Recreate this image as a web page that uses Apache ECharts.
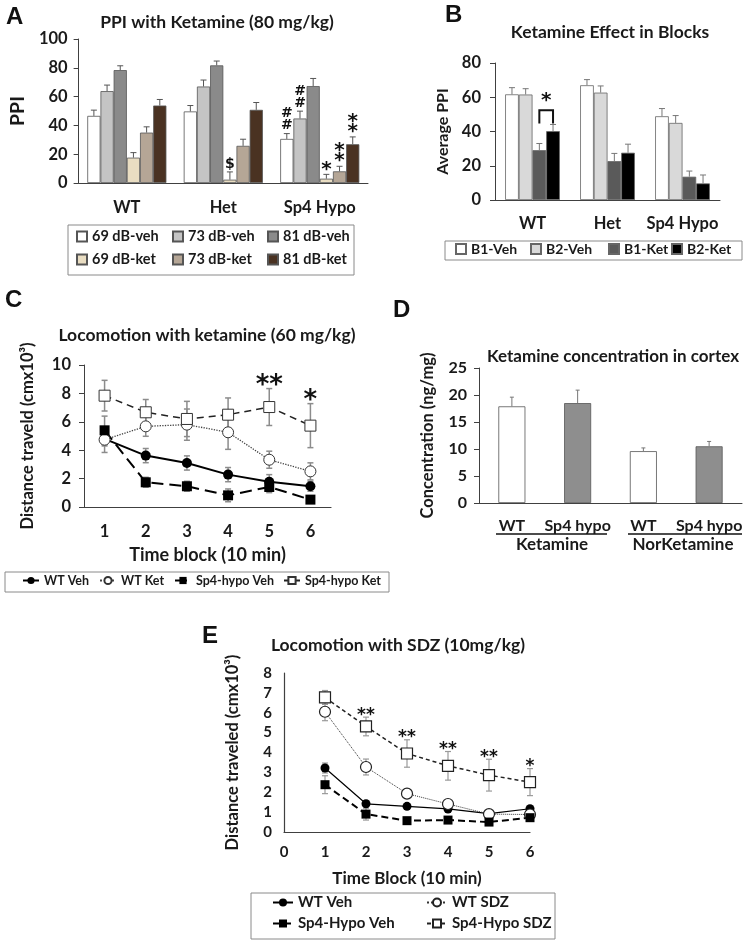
<!DOCTYPE html>
<html>
<head>
<meta charset="utf-8">
<script src="https://cdn.jsdelivr.net/npm/echarts@6/dist/echarts.min.js"></script>
<style>
  body { margin: 0; background: #fff; }
  #page { position: relative; width: 747px; height: 945px; }
  .panel { position: absolute; }
</style>
</head>
<body>
<div id="page">
  <div id="panelA" class="panel" style="left:0;top:0;width:380px;height:290px"></div>
  <div id="panelB" class="panel" style="left:380px;top:0;width:367px;height:290px"></div>
  <div id="panelC" class="panel" style="left:0;top:285px;width:400px;height:315px"></div>
  <div id="panelD" class="panel" style="left:390px;top:290px;width:357px;height:300px"></div>
  <div id="panelE" class="panel" style="left:190px;top:590px;width:380px;height:355px"></div>
</div>
<script>
// ---------- data ----------
// A: PPI with ketamine
const groupsA = ['WT', 'Het', 'Sp4 Hypo']
const namesA = ['69 dB-veh', '73 dB-veh', '81 dB-veh', '69 dB-ket', '73 dB-ket', '81 dB-ket']
const ppi69Veh = [46.6, 49.7, 30.6]
const ppi73Veh = [63.8, 67, 44.8]
const ppi81Veh = [78.4, 81.7, 67.3]
const ppi69Ket = [17.6, 2.3, 3]
const ppi73Ket = [35, 25.8, 8.1]
const ppi81Ket = [53.8, 50.8, 26.9]
const sem69Veh = [4, 4.1, 3.7]
const sem73Veh = [4.2, 4.5, 5.1]
const sem81Veh = [3, 3, 5.3]
const sem69Ket = [3.5, 5.4, 3]
const sem73Ket = [4, 4.6, 3.5]
const sem81Ket = [4.2, 5.1, 5.1]
const notes69Veh = ['', '', '#\n#']
const notes73Veh = ['', '', '#\n#']
const notes69Ket = ['', '$', '*']
const notes73Ket = ['', '', '*\n*']
const notes81Ket = ['', '', '*\n*']

// B: ketamine effect in blocks
const groupsB = ['WT', 'Het', 'Sp4 Hypo']
const namesB = ['B1-Veh', 'B2-Veh', 'B1-Ket', 'B2-Ket']
const b1Veh = [61.7, 67, 48.9]
const b2Veh = [61.6, 62.7, 45]
const b1Ket = [29.1, 22.7, 13.6]
const b2Ket = [40.2, 27.6, 9.7]
const b1VehErr = [3.9, 3.3, 4.5]
const b2VehErr = [3.4, 3.9, 4.3]
const b1KetErr = [3.9, 4.5, 3.3]
const b2KetErr = [3.9, 5, 4.9]

// C: locomotion with ketamine
const blocksC = ['1', '2', '3', '4', '5', '6']
const namesC = ['WT Veh', 'WT Ket', 'Sp4-hypo Veh', 'Sp4-hypo Ket']
const wtVehC = [4.8, 3.62, 3.1, 2.28, 1.78, 1.46]
const wtKetC = [4.74, 5.68, 5.8, 5.26, 3.33, 2.51]
const sp4VehC = [5.4, 1.74, 1.46, 0.82, 1.41, 0.52]
const sp4KetC = [7.84, 6.67, 6.2, 6.5, 7.04, 5.73]
const wtVehErrC = [0.5, 0.5, 0.5, 0.5, 0.5, 0.35]
const wtKetErrC = [0.9, 0.7, 1.1, 1.2, 0.6, 0.6]
const sp4VehErrC = [1.0, 0.35, 0.35, 0.45, 0.4, 0.2]
const sp4KetErrC = [1.08, 0.9, 1.24, 1.18, 1.3, 1.55]
const notesC = ['', '', '', '', '**', '*']

// D: ketamine concentration in cortex
const compoundsD = ['Ketamine', 'NorKetamine']
const genotypesD = ['WT', 'Sp4 hypo']
const concD = [17.9, 18.5, 9.6, 10.5]
const concErrD = [1.7, 2.4, 0.6, 0.9]

// E: locomotion with SDZ
const blocksE = [1, 2, 3, 4, 5, 6]
const namesE = ['WT Veh', 'WT SDZ', 'Sp4-Hypo Veh', 'Sp4-Hypo SDZ']
const wtVehE = [3.22, 1.42, 1.29, 1.16, 0.92, 1.17]
const wtSdzE = [6.05, 3.27, 1.93, 1.41, 0.9, 0.88]
const sp4VehE = [2.38, 0.9, 0.57, 0.6, 0.5, 0.72]
const sp4SdzE = [6.77, 5.31, 3.95, 3.33, 2.86, 2.51]
const wtVehErrE = [0.25, 0.15, 0.12, 0.12, 0.1, 0.12]
const wtSdzErrE = [0.45, 0.4, 0.2, 0.2, 0.15, 0.1]
const sp4VehErrE = [0.45, 0.3, 0.12, 0.1, 0.12, 0.1]
const sp4SdzErrE = [0.35, 0.47, 0.69, 0.72, 0.8, 0.68]
const notesE = ['', '**', '**', '**', '**', '*']

// ---------- shared styles ----------
const FONT = 'Lato, "Open Sans", sans-serif'
const INK = '#1a1a1a'
const AXIS = '#404040'
const letterStyle = { fontSize: 24, fontWeight: 'bold', fontFamily: '"Liberation Sans", Arial', color: '#111' }
const bold = (size) => ({ fontSize: size, fontWeight: 'bold', color: INK, fontFamily: FONT })

// 误差线（柱状图，只画上半部分）
function barErrorSeries(values, errs, notes, idx, count, gap, opt) {
  opt = opt || {}
  return {
    type: 'custom',
    z: 3,
    silent: true,
    data: values.map((v, j) => [j, v]),
    renderItem: function (params, api) {
      const j = params.dataIndex
      const base = api.coord([j, values[j]])
      const top = api.coord([j, values[j] + errs[j]])
      const band = api.size([1, 0])[0]
      const group = opt.barWidth ? opt.barWidth * count : band * (1 - gap)
      const x = base[0] - group / 2 + group / count * (idx + 0.5)
      const cap = opt.cap || 3
      const stroke = { stroke: opt.color || '#555', lineWidth: 1 }
      const children = [
        { type: 'line', shape: { x1: x, y1: base[1], x2: x, y2: top[1] }, style: stroke },
        { type: 'line', shape: { x1: x - cap, y1: top[1], x2: x + cap, y2: top[1] }, style: stroke }
      ]
      const note = notes && notes[j]
      if (note) {
        const star = note.indexOf('*') >= 0
        children.push({
          type: 'text',
          style: {
            text: note, x: x, y: top[1] - (star ? 0 : 2),
            align: 'center', verticalAlign: 'bottom',
            fontFamily: '"DejaVu Sans"', fontWeight: 'bold',
            fontSize: star ? 20 : 14, lineHeight: star ? 10 : 12, fill: '#111'
          }
        })
      }
      return { type: 'group', children }
    }
  }
}

// 误差线（折线图，上下对称）
function lineErrorSeries(xs, values, errs, notes, opt) {
  return {
    type: 'custom',
    z: 1,
    silent: true,
    data: values.map((v, j) => [xs[j], v]),
    renderItem: function (params, api) {
      const j = params.dataIndex
      const lo = api.coord([xs[j], values[j] - errs[j]])
      const hi = api.coord([xs[j], values[j] + errs[j]])
      const stroke = { stroke: opt.color, lineWidth: opt.width }
      const children = [
        { type: 'line', shape: { x1: lo[0], y1: lo[1], x2: hi[0], y2: hi[1] }, style: stroke },
        { type: 'line', shape: { x1: hi[0] - opt.cap, y1: hi[1], x2: hi[0] + opt.cap, y2: hi[1] }, style: stroke },
        { type: 'line', shape: { x1: lo[0] - opt.cap, y1: lo[1], x2: lo[0] + opt.cap, y2: lo[1] }, style: stroke }
      ]
      if (notes && notes[j]) {
        children.push({
          type: 'text',
          style: {
            text: notes[j], x: hi[0], y: hi[1] - opt.noteGap,
            align: 'center', verticalAlign: 'middle',
            fontFamily: '"DejaVu Sans"', fontWeight: 'bold', fontSize: opt.noteSize, fill: '#111'
          }
        })
      }
      return { type: 'group', children }
    }
  }
}

function valueAxisBase(extra) {
  return Object.assign({
    type: 'value',
    nameLocation: 'middle',
    splitLine: { show: false },
    axisLine: { show: true, lineStyle: { color: AXIS } },
    axisTick: { show: true, length: 5, lineStyle: { color: AXIS } }
  }, extra)
}

// 多列图例：每一列一个竖向 legend
function columnLegends(names, lefts, top, gap, textStyle, extra) {
  return lefts.map((left, c) => Object.assign({
    data: names.filter((n, i) => i % lefts.length === c),
    orient: 'vertical', left, top, padding: 0, itemGap: gap, textStyle
  }, extra))
}

// ---------- A ----------
const chartA = echarts.init(document.getElementById('panelA'))
const seriesDataA = [ppi69Veh, ppi73Veh, ppi81Veh, ppi69Ket, ppi73Ket, ppi81Ket]
const semA = [sem69Veh, sem73Veh, sem81Veh, sem69Ket, sem73Ket, sem81Ket]
const notesA = [notes69Veh, notes73Veh, null, notes69Ket, notes73Ket, notes81Ket]
const colorsA = ['#ffffff', '#c4c4c4', '#8a8a8a', '#e9ddc2', '#b5a696', '#4a3222']
const gapA = 0.18
chartA.setOption({
  animation: false,
  textStyle: { fontFamily: FONT },
  title: [
    { text: 'A', left: 6, top: 5, padding: 0, textStyle: letterStyle },
    { text: 'PPI with Ketamine (80 mg/kg)', left: 217, top: 13, padding: 0, textAlign: 'center', textStyle: bold(17.5) }
  ],
  grid: { left: 77, top: 39, width: 291, height: 144 },
  xAxis: {
    type: 'category', data: groupsA,
    axisLine: { lineStyle: { color: AXIS } },
    axisTick: { length: 8, lineStyle: { color: AXIS } },
    axisLabel: Object.assign({ margin: 16, interval: 0 }, bold(16.5))
  },
  yAxis: valueAxisBase({
    min: 0, max: 100, interval: 20,
    name: 'PPI', nameGap: 35, nameTextStyle: bold(19.5),
    axisLabel: Object.assign({ margin: 11 }, bold(16.5))
  }),
  legend: columnLegends(namesA, [76, 172, 267], 229, 8, bold(14.5), { itemWidth: 10, itemHeight: 10, icon: 'rect' }),
  graphic: [{ type: 'rect', shape: { x: 68, y: 225, width: 286, height: 50 }, style: { fill: 'none', stroke: '#8a8a8a', lineWidth: 1 } }],
  series: namesA.map((name, i) => ({
    name, type: 'bar', data: seriesDataA[i], barGap: 0, barCategoryGap: gapA * 100 + '%',
    itemStyle: { color: colorsA[i], borderColor: '#555', borderWidth: 0.8 }
  })).concat(seriesDataA.map((vals, i) => barErrorSeries(vals, semA[i], notesA[i], i, 6, gapA, { color: '#555' })))
})

// ---------- B ----------
const chartB = echarts.init(document.getElementById('panelB'))
const seriesDataB = [b1Veh, b2Veh, b1Ket, b2Ket]
const errB = [b1VehErr, b2VehErr, b1KetErr, b2KetErr]
const colorsB = ['#ffffff', '#d9d9d9', '#5a5a5a', '#000000']
const gapB = 0.27
// WT 组 B1-Ket 与 B2-Ket 之间的显著性标记
const bracketB = { group: 0, from: 2, to: 3, top: 52.4, bottom: 44.7, text: '*' }
chartB.setOption({
  animation: false,
  textStyle: { fontFamily: FONT },
  title: [
    { text: 'B', left: 65, top: 3, padding: 0, textStyle: letterStyle },
    { text: 'Ketamine Effect in Blocks', left: 230, top: 23, padding: 0, textAlign: 'center', textStyle: bold(17.5) }
  ],
  grid: { left: 115, top: 63, width: 225, height: 137 },
  xAxis: {
    type: 'category', data: groupsB,
    axisLine: { lineStyle: { color: AXIS } },
    axisTick: { length: 6, lineStyle: { color: AXIS } },
    axisLabel: Object.assign({ margin: 15, interval: 0 }, bold(16.5))
  },
  yAxis: valueAxisBase({
    min: 0, max: 80, interval: 20,
    name: 'Average PPI', nameGap: 38, nameTextStyle: bold(16),
    axisLabel: Object.assign({ margin: 14 }, bold(16.5))
  }),
  legend: columnLegends(namesB, [75, 150, 228, 291], 242, 0, bold(14), { itemWidth: 10, itemHeight: 10, icon: 'rect' }),
  graphic: [{ type: 'rect', shape: { x: 65, y: 241, width: 297, height: 19 }, style: { fill: 'none', stroke: '#8a8a8a', lineWidth: 1 } }],
  series: namesB.map((name, i) => ({
    name, type: 'bar', data: seriesDataB[i], barGap: 0, barCategoryGap: gapB * 100 + '%',
    itemStyle: { color: colorsB[i], borderColor: '#666', borderWidth: 0.8 }
  })).concat(seriesDataB.map((vals, i) => barErrorSeries(vals, errB[i], null, i, 4, gapB, { color: '#777' })))
    .concat([{
      type: 'custom', z: 4, silent: true,
      data: [[bracketB.group, bracketB.top]],
      renderItem: function (params, api) {
        const c = api.coord([bracketB.group, bracketB.top])
        const yb = api.coord([bracketB.group, bracketB.bottom])[1]
        const group = api.size([1, 0])[0] * (1 - gapB)
        const bw = group / 4
        const x1 = c[0] - group / 2 + bw * (bracketB.from + 0.5)
        const x2 = c[0] - group / 2 + bw * (bracketB.to + 0.5)
        const s = { stroke: '#111', lineWidth: 2, fill: 'none' }
        return {
          type: 'group', children: [
            { type: 'polyline', shape: { points: [[x1, yb], [x1, c[1]], [x2, c[1]], [x2, yb]] }, style: s },
            { type: 'text', style: { text: bracketB.text, x: (x1 + x2) / 2, y: c[1] + 1, align: 'center', verticalAlign: 'bottom', fontFamily: '"DejaVu Sans"', fontWeight: 'bold', fontSize: 20, fill: '#111' } }
          ]
        }
      }
    }])
})

// ---------- C ----------
const chartC = echarts.init(document.getElementById('panelC'))
const idxC = blocksC.map((b, i) => i)
chartC.setOption({
  animation: false,
  textStyle: { fontFamily: FONT },
  title: [
    { text: 'C', left: 5, top: 3, padding: 0, textStyle: letterStyle },
    { text: 'Locomotion with ketamine (60 mg/kg)', left: 207, top: 41, padding: 0, textAlign: 'center', textStyle: bold(17.5) }
  ],
  grid: { left: 84, top: 80, width: 247, height: 142 },
  xAxis: {
    type: 'category', data: blocksC,
    name: 'Time block (10 min)', nameLocation: 'middle', nameGap: 39, nameTextStyle: bold(18),
    axisLine: { lineStyle: { color: AXIS, width: 1.2 } },
    axisTick: { show: false },
    axisLabel: Object.assign({ margin: 16, interval: 0 }, bold(16.5))
  },
  yAxis: valueAxisBase({
    min: 0, max: 10, interval: 2,
    name: 'Distance traveld (cmx10³)', nameGap: 48, nameTextStyle: bold(16.5),
    axisLabel: Object.assign({ margin: 13 }, bold(16.5))
  }),
  legend: columnLegends(namesC, [22, 99, 174, 283], 289, 0, bold(12.5), { itemWidth: 16, itemHeight: 9 }),
  graphic: [{ type: 'rect', shape: { x: 5, y: 287, width: 384, height: 20 }, style: { fill: 'none', stroke: '#8a8a8a', lineWidth: 1 } }],
  series: [
    lineErrorSeries(idxC, wtVehC, wtVehErrC, null, { color: '#8c8c8c', width: 1.5, cap: 3 }),
    lineErrorSeries(idxC, wtKetC, wtKetErrC, null, { color: '#8c8c8c', width: 1.5, cap: 3 }),
    lineErrorSeries(idxC, sp4VehC, sp4VehErrC, null, { color: '#8c8c8c', width: 1.5, cap: 3 }),
    lineErrorSeries(idxC, sp4KetC, sp4KetErrC, notesC, { color: '#8c8c8c', width: 1.5, cap: 3, noteGap: 2, noteSize: 26 }),
    { name: 'WT Veh', type: 'line', data: wtVehC, symbol: 'circle', symbolSize: 10, showAllSymbol: true,
      itemStyle: { color: '#000' }, lineStyle: { color: '#000', width: 2 } },
    { name: 'WT Ket', type: 'line', data: wtKetC, symbol: 'circle', symbolSize: 11, showAllSymbol: true,
      itemStyle: { color: '#fff', borderColor: '#333', borderWidth: 1 }, lineStyle: { color: '#444', width: 1.3, type: 'dotted' } },
    { name: 'Sp4-hypo Veh', type: 'line', data: sp4VehC, symbol: 'rect', symbolSize: 10, showAllSymbol: true,
      itemStyle: { color: '#000' }, lineStyle: { color: '#000', width: 2, type: [12, 6] } },
    { name: 'Sp4-hypo Ket', type: 'line', data: sp4KetC, symbol: 'rect', symbolSize: 11, showAllSymbol: true,
      itemStyle: { color: '#fff', borderColor: '#333', borderWidth: 1 }, lineStyle: { color: '#222', width: 1.5, type: [7, 5] } }
  ]
})

// ---------- D ----------
const chartD = echarts.init(document.getElementById('panelD'))
const categoriesD = compoundsD.flatMap(c => genotypesD.map(g => c + ' ' + g))
const colorsD = ['#ffffff', '#8e8e8e']
chartD.setOption({
  animation: false,
  textStyle: { fontFamily: FONT },
  title: [
    { text: 'D', left: 3, top: 8, padding: 0, textStyle: letterStyle },
    { text: 'Ketamine concentration in cortex', left: 223, top: 58, padding: 0, textAlign: 'center', textStyle: bold(17) }
  ],
  grid: { left: 89, top: 78, width: 263, height: 135 },
  xAxis: {
    type: 'category', data: categoriesD,
    axisLine: { lineStyle: { color: AXIS } },
    axisTick: { length: 5, lineStyle: { color: AXIS } },
    axisLabel: Object.assign({ margin: 15, interval: 0, formatter: (v, i) => genotypesD[i % genotypesD.length] }, bold(16))
  },
  yAxis: valueAxisBase({
    min: 0, max: 25, interval: 5,
    name: 'Concentration (ng/mg)', nameGap: 43, nameTextStyle: bold(16.5),
    axisLabel: Object.assign({ margin: 12 }, bold(16))
  }),
  graphic: [
    { type: 'line', shape: { x1: 106, y1: 244, x2: 217, y2: 244 }, style: { stroke: '#111', lineWidth: 1.5 } },
    { type: 'line', shape: { x1: 238, y1: 244, x2: 352, y2: 244 }, style: { stroke: '#111', lineWidth: 1.5 } },
    { type: 'text', style: { text: compoundsD[0], x: 162, y: 255, align: 'center', verticalAlign: 'middle', font: 'bold 17px Lato', fill: INK } },
    { type: 'text', style: { text: compoundsD[1], x: 293, y: 255, align: 'center', verticalAlign: 'middle', font: 'bold 17px Lato', fill: INK } }
  ],
  series: [
    { type: 'bar', barWidth: 27,
      data: concD.map((v, i) => ({ value: v, itemStyle: { color: colorsD[i % colorsD.length] } })),
      itemStyle: { borderColor: '#555', borderWidth: 0.8 } },
    barErrorSeries(concD, concErrD, null, 0, 1, 0, { color: '#777', barWidth: 27, cap: 2 })
  ]
})

// ---------- E ----------
const chartE = echarts.init(document.getElementById('panelE'))
const pairs = (ys) => blocksE.map((b, i) => [b, ys[i]])
const errOptE = { color: '#9a9a9a', width: 1.2, cap: 3 }
chartE.setOption({
  animation: false,
  textStyle: { fontFamily: FONT },
  title: [
    { text: 'E', left: 12, top: 34, padding: 0, textStyle: letterStyle },
    { text: 'Locomotion with SDZ (10mg/kg)', left: 208, top: 46, padding: 0, textAlign: 'center', textStyle: bold(17.5) }
  ],
  grid: { left: 94, top: 83, width: 246, height: 159 },
  xAxis: {
    type: 'value', min: 0, max: 6, interval: 1,
    name: 'Time Block (10 min)', nameLocation: 'middle', nameGap: 38, nameTextStyle: bold(17),
    splitLine: { show: false },
    axisLine: { lineStyle: { color: AXIS, width: 1.2 } },
    axisTick: { show: false },
    axisLabel: Object.assign({ margin: 13 }, bold(15))
  },
  yAxis: valueAxisBase({
    min: 0, max: 8, interval: 1,
    name: 'Distance traveled (cmx10³)', nameGap: 43, nameTextStyle: bold(16.5),
    axisTick: { show: false },
    axisLine: { show: true, lineStyle: { color: AXIS, width: 1.2 } },
    axisLabel: Object.assign({ margin: 12 }, bold(15))
  }),
  legend: columnLegends(namesE, [82, 236], 305, 6, bold(15), { itemWidth: 20, itemHeight: 10 }),
  graphic: [{ type: 'rect', shape: { x: 61, y: 303, width: 304, height: 46 }, style: { fill: 'none', stroke: '#8a8a8a', lineWidth: 1 } }],
  series: [
    lineErrorSeries(blocksE, wtVehE, wtVehErrE, null, errOptE),
    lineErrorSeries(blocksE, wtSdzE, wtSdzErrE, null, errOptE),
    lineErrorSeries(blocksE, sp4VehE, sp4VehErrE, null, errOptE),
    lineErrorSeries(blocksE, sp4SdzE, sp4SdzErrE, notesE, Object.assign({ noteGap: 2, noteSize: 17 }, errOptE)),
    { name: 'WT Veh', type: 'line', data: pairs(wtVehE), symbol: 'circle', symbolSize: 9, showAllSymbol: true,
      itemStyle: { color: '#000' }, lineStyle: { color: '#000', width: 1.2 } },
    { name: 'WT SDZ', type: 'line', data: pairs(wtSdzE), symbol: 'circle', symbolSize: 11, showAllSymbol: true,
      itemStyle: { color: '#fff', borderColor: '#222', borderWidth: 1.2 }, lineStyle: { color: '#333', width: 1, type: 'dotted' } },
    { name: 'Sp4-Hypo Veh', type: 'line', data: pairs(sp4VehE), symbol: 'rect', symbolSize: 9, showAllSymbol: true,
      itemStyle: { color: '#000' }, lineStyle: { color: '#000', width: 2, type: [7, 4] } },
    { name: 'Sp4-Hypo SDZ', type: 'line', data: pairs(sp4SdzE), symbol: 'rect', symbolSize: 11, showAllSymbol: true,
      itemStyle: { color: '#fff', borderColor: '#222', borderWidth: 1.2 }, lineStyle: { color: '#222', width: 1.5, type: [4, 3] } }
  ]
})
</script>
</body>
</html>
